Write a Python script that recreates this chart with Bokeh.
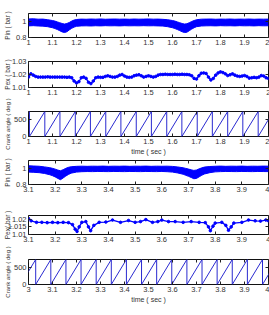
import math
from bokeh.plotting import figure
from bokeh.layouts import column
from bokeh.models import Range1d, FixedTicker, PrintfTickFormatter, LinearAxis
from bokeh.embed import file_html
from bokeh.resources import INLINE

# ---------------- data ----------------
# Panel 1: inlet pressure, noise envelope, t = 1..2 s
pin1_t = [1.00, 1.02, 1.04, 1.06, 1.08, 1.10, 1.11, 1.12, 1.13, 1.14, 1.15, 1.16, 1.17, 1.18, 1.19, 1.20,
          1.22, 1.24, 1.26, 1.28, 1.30, 1.32, 1.34, 1.36, 1.38, 1.40, 1.42, 1.44, 1.46, 1.48, 1.50, 1.52,
          1.54, 1.56, 1.58, 1.60, 1.61, 1.62, 1.63, 1.64, 1.65, 1.66, 1.67, 1.68, 1.69, 1.70, 1.72, 1.74,
          1.76, 1.78, 1.80, 1.82, 1.84, 1.86, 1.88, 1.90, 1.92, 1.94, 1.96, 1.98, 2.00]
pin1_hi = [1.032, 1.034, 1.029, 1.030, 1.022, 1.012, 1.005, 0.995, 0.985, 0.975, 0.968, 0.975, 0.988, 1.005, 1.018, 1.025,
           1.030, 1.028, 1.031, 1.029, 1.032, 1.028, 1.030, 1.031, 1.029, 1.030, 1.028, 1.031, 1.029, 1.030, 1.032, 1.029,
           1.030, 1.027, 1.022, 1.012, 1.005, 0.995, 0.985, 0.975, 0.968, 0.972, 0.985, 1.000, 1.012, 1.022, 1.029, 1.030,
           1.031, 1.028, 1.030, 1.029, 1.031, 1.028, 1.030, 1.029, 1.031, 1.028, 1.030, 1.029, 1.030]
pin1_lo = [0.945, 0.948, 0.944, 0.942, 0.935, 0.922, 0.912, 0.900, 0.885, 0.870, 0.862, 0.872, 0.895, 0.915, 0.930, 0.940,
           0.945, 0.946, 0.944, 0.947, 0.945, 0.948, 0.946, 0.947, 0.945, 0.948, 0.946, 0.947, 0.946, 0.948, 0.946, 0.947,
           0.945, 0.943, 0.935, 0.922, 0.912, 0.900, 0.886, 0.872, 0.862, 0.866, 0.885, 0.905, 0.922, 0.935, 0.944, 0.946,
           0.947, 0.945, 0.948, 0.946, 0.947, 0.945, 0.948, 0.946, 0.947, 0.945, 0.948, 0.946, 0.947]

# Panel 2: exhaust pressure, t = 1..2 s every 0.01 s
pex1_t = [round(1.00 + 0.01 * i, 2) for i in range(101)]
pex1_v = [1.0180, 1.0205, 1.0195, 1.0185, 1.0180, 1.0180, 1.0180, 1.0180, 1.0182, 1.0180,
          1.0180, 1.0180, 1.0180, 1.0180, 1.0180, 1.0180, 1.0178, 1.0180, 1.0175, 1.0150,
          1.0135, 1.0145, 1.0175, 1.0180, 1.0170, 1.0140, 1.0130, 1.0150, 1.0175, 1.0180,
          1.0178, 1.0178, 1.0185, 1.0190, 1.0185, 1.0180, 1.0180, 1.0185, 1.0195, 1.0200,
          1.0188, 1.0180, 1.0178, 1.0180, 1.0190, 1.0195, 1.0198, 1.0190, 1.0180, 1.0185,
          1.0190, 1.0185, 1.0180, 1.0185, 1.0195, 1.0200, 1.0200, 1.0202, 1.0200, 1.0200,
          1.0200, 1.0202, 1.0200, 1.0200, 1.0202, 1.0200, 1.0200, 1.0198, 1.0190, 1.0170,
          1.0165, 1.0190, 1.0210, 1.0212, 1.0208, 1.0180, 1.0158, 1.0170, 1.0195, 1.0212,
          1.0220, 1.0215, 1.0205, 1.0192, 1.0198, 1.0205, 1.0195, 1.0188, 1.0185, 1.0188,
          1.0192, 1.0185, 1.0172, 1.0175, 1.0178, 1.0175, 1.0180, 1.0192, 1.0188, 1.0175,
          1.0170]

# Panel 3 / 6: crank angle resets (s) and maximum angle
crank1_resets = [0.94, 1.004, 1.068, 1.131, 1.195, 1.258, 1.322, 1.385, 1.449, 1.512, 1.576,
                 1.639, 1.703, 1.766, 1.830, 1.893, 1.957, 2.020]
crank2_resets = [2.967, 3.030, 3.093, 3.156, 3.219, 3.282, 3.345, 3.408, 3.471, 3.534, 3.597,
                 3.660, 3.723, 3.786, 3.849, 3.912, 3.975, 4.038]
crank_max = 720

# Panel 4: inlet pressure envelope, t = 3.1..4 s
pin2_t = [3.10, 3.12, 3.14, 3.16, 3.18, 3.19, 3.20, 3.21, 3.22, 3.23, 3.24, 3.25, 3.26, 3.28, 3.30, 3.32,
          3.34, 3.36, 3.38, 3.40, 3.42, 3.44, 3.46, 3.48, 3.50, 3.52, 3.54, 3.56, 3.58, 3.60, 3.62, 3.64,
          3.66, 3.68, 3.69, 3.70, 3.71, 3.72, 3.73, 3.74, 3.75, 3.76, 3.78, 3.80, 3.82, 3.84, 3.86, 3.88,
          3.90, 3.92, 3.94, 3.96, 3.98, 4.00]
pin2_hi = [1.034, 1.031, 1.028, 1.020, 1.010, 1.002, 0.992, 0.980, 0.972, 0.985, 1.002, 1.015, 1.022, 1.027, 1.029, 1.027,
           1.029, 1.028, 1.030, 1.027, 1.029, 1.028, 1.030, 1.027, 1.029, 1.028, 1.030, 1.027, 1.029, 1.028, 1.029, 1.026,
           1.019, 1.009, 1.001, 0.993, 0.983, 0.976, 0.981, 0.996, 1.008, 1.018, 1.025, 1.028, 1.030, 1.027, 1.029, 1.028,
           1.030, 1.027, 1.029, 1.028, 1.030, 1.029]
pin2_lo = [0.955, 0.952, 0.948, 0.938, 0.922, 0.910, 0.895, 0.876, 0.860, 0.882, 0.906, 0.926, 0.942, 0.955, 0.960, 0.962,
           0.961, 0.963, 0.962, 0.961, 0.963, 0.962, 0.961, 0.963, 0.962, 0.961, 0.963, 0.962, 0.961, 0.963, 0.960, 0.955,
           0.944, 0.928, 0.915, 0.902, 0.888, 0.872, 0.876, 0.896, 0.916, 0.932, 0.948, 0.958, 0.961, 0.963, 0.962, 0.961,
           0.963, 0.962, 0.961, 0.963, 0.962, 0.961]

# Panel 5: exhaust pressure, t = 3.1..4 s
pex2_t = [3.100, 3.110, 3.130, 3.150, 3.170, 3.190, 3.210, 3.230, 3.250, 3.265, 3.275, 3.282, 3.290, 3.300,
          3.315, 3.325, 3.333, 3.345, 3.365, 3.390, 3.415, 3.445, 3.475, 3.500, 3.520, 3.540, 3.565, 3.585,
          3.600, 3.625, 3.650, 3.680, 3.710, 3.740, 3.763, 3.775, 3.782, 3.792, 3.800, 3.825, 3.840, 3.850,
          3.860, 3.870, 3.900, 3.925, 3.950, 3.970, 3.990, 4.000]
pex2_v = [1.0205, 1.0190, 1.0180, 1.0180, 1.0178, 1.0180, 1.0178, 1.0180, 1.0178, 1.0165, 1.0135, 1.0120, 1.0150, 1.0180,
          1.0185, 1.0150, 1.0125, 1.0160, 1.0180, 1.0182, 1.0195, 1.0180, 1.0192, 1.0180, 1.0185, 1.0198, 1.0180, 1.0185,
          1.0195, 1.0185, 1.0185, 1.0180, 1.0185, 1.0180, 1.0178, 1.0150, 1.0125, 1.0155, 1.0175, 1.0180, 1.0160, 1.0128,
          1.0150, 1.0175, 1.0180, 1.0195, 1.0190, 1.0188, 1.0195, 1.0190]

# axes
x1_ticks = [1, 1.1, 1.2, 1.3, 1.4, 1.5, 1.6, 1.7, 1.8, 1.9, 2]
x2_ticks = [3.1, 3.2, 3.3, 3.4, 3.5, 3.6, 3.7, 3.8, 3.9, 4]
x3_ticks = [3, 3.1, 3.2, 3.3, 3.4, 3.5, 3.6, 3.7, 3.8, 3.9, 4]
pin_ticks = [0.8, 1]
pex1_ticks = [1.01, 1.02, 1.03]
pex2_ticks = [1.01, 1.015, 1.02]
crank_ticks = [0, 500]

FONT = "Liberation Sans"
BLUE = "#0000ff"
CRANK = "#2a2ad0"
TXT = "#333333"


def styled_axis(ax, ticks, show_labels=True):
    ax.ticker = FixedTicker(ticks=ticks)
    ax.formatter = PrintfTickFormatter(format="%g" if show_labels else "")
    ax.major_tick_in = 3
    ax.major_tick_out = 0
    ax.minor_tick_line_color = None
    ax.axis_line_color = None
    ax.major_tick_line_color = "#222222"
    ax.major_label_standoff = 2 if show_labels else 0
    ax.major_label_text_font = FONT
    ax.major_label_text_font_size = "7.5px"
    ax.major_label_text_color = TXT


def make_fig(xr, yr, fh, top, bottom, xticks, yticks, ylabel, ylabel_standoff, ylabel_size="6.5px", xlabel=None):
    p = figure(frame_width=240, frame_height=fh, x_range=Range1d(*xr), y_range=Range1d(*yr),
               min_border_left=26, min_border_right=2, min_border_top=top, min_border_bottom=bottom,
               output_backend="svg", toolbar_location=None,
               background_fill_color="white", border_fill_color="white",
               outline_line_color="#111111", outline_line_width=1)
    p.xgrid.visible = False
    p.ygrid.visible = False
    xax = p.below[0]
    yax = p.left[0]
    styled_axis(xax, xticks)
    styled_axis(yax, yticks)
    yax.axis_label = ylabel
    yax.axis_label_standoff = ylabel_standoff
    yax.axis_label_text_font = FONT
    yax.axis_label_text_font_size = ylabel_size
    yax.axis_label_text_font_style = "normal"
    yax.axis_label_text_color = TXT
    if xlabel:
        xax.axis_label = xlabel
        xax.axis_label_standoff = 1
        xax.axis_label_text_font = FONT
        xax.axis_label_text_font_size = "7px"
        xax.axis_label_text_font_style = "normal"
        xax.axis_label_text_color = TXT
    top_ax = LinearAxis()
    styled_axis(top_ax, xticks, show_labels=False)
    p.add_layout(top_ax, "above")
    right_ax = LinearAxis()
    styled_axis(right_ax, yticks, show_labels=False)
    p.add_layout(right_ax, "right")
    return p


def sawtooth(resets):
    xs, ys = [], []
    for a, b in zip(resets[:-1], resets[1:]):
        xs += [a, b]
        ys += [0, crank_max]
    return xs, ys


p1 = make_fig((1, 2), (0.8, 1.1), 24, 13, 11, x1_ticks, pin_ticks, "Pin ( bar )", 2)
p1.varea(x=pin1_t, y1=pin1_lo, y2=pin1_hi, fill_color=BLUE)
p1.line(x=pin1_t, y=pin1_hi, line_color=BLUE, line_width=1)
p1.line(x=pin1_t, y=pin1_lo, line_color=BLUE, line_width=1)

p2 = make_fig((1, 2), (1.01, 1.03), 26, 13, 11, x1_ticks, pex1_ticks, "Pex ( bar )", -2)
p2.line(x=pex1_t, y=pex1_v, line_color=BLUE, line_width=1.3)
p2.scatter(x=pex1_t, y=pex1_v, size=2.6, color=BLUE)

p3 = make_fig((1, 2), (0, crank_max), 25, 13, 21, x1_ticks, crank_ticks, "Crank angle ( deg )", 0, "6px", "time ( sec )")
cx, cy = sawtooth(crank1_resets)
p3.line(x=cx, y=cy, line_color=CRANK, line_width=1)

p4 = make_fig((3.1, 4), (0.8, 1.1), 24, 3, 14, x2_ticks, pin_ticks, "Pin ( bar )", 2)
p4.varea(x=pin2_t, y1=pin2_lo, y2=pin2_hi, fill_color=BLUE)
p4.line(x=pin2_t, y=pin2_hi, line_color=BLUE, line_width=1)
p4.line(x=pin2_t, y=pin2_lo, line_color=BLUE, line_width=1)

p5 = make_fig((3.1, 4), (1.01, 1.0225), 19, 17, 12, x2_ticks, pex2_ticks, "Pex( bar )", -6)
p5.line(x=pex2_t, y=pex2_v, line_color=BLUE, line_width=1.3)
p5.scatter(x=pex2_t, y=pex2_v, size=2.6, color=BLUE)

p6 = make_fig((3, 4), (0, crank_max), 25, 13, 28, x3_ticks, crank_ticks, "Crank angle ( deg )", 0, "6px", "time ( sec )")
cx, cy = sawtooth(crank2_resets)
p6.line(x=cx, y=cy, line_color=CRANK, line_width=1)

layout = column(p1, p2, p3, p4, p5, p6, spacing=0)
open("out.html", "w").write(file_html(layout, INLINE))
